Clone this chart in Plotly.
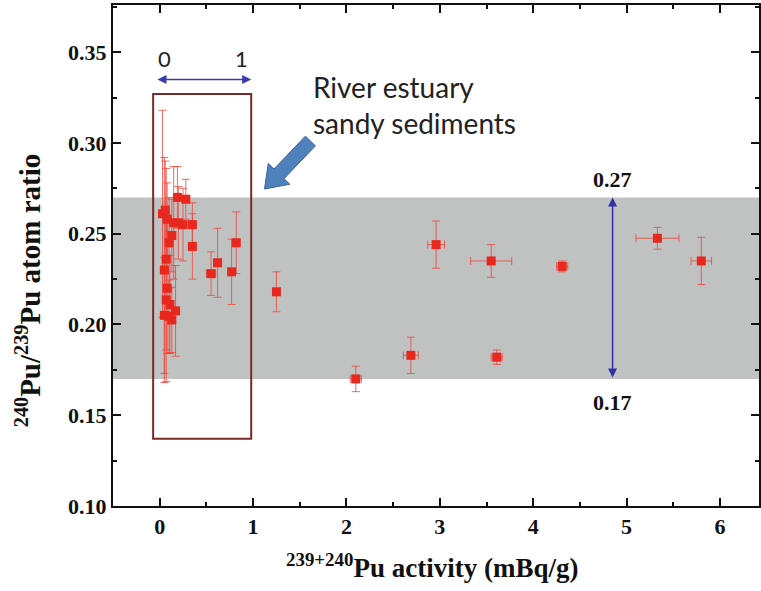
import math
import plotly.graph_objects as go

# ---------------- data ----------------
activity = [0.03, 0.06, 0.08, 0.15, 0.20, 0.19, 0.28, 0.25, 0.35, 0.13, 0.10, 0.35,
            0.07, 0.05, 0.08, 0.07, 0.11, 0.17, 0.05, 0.10, 0.13,
            0.55, 0.62, 0.77, 0.82, 1.25,
            2.10, 2.69, 2.96, 3.55, 3.61, 4.31, 5.33, 5.80]
activity_err = [0.02, 0.02, 0.02, 0.02, 0.02, 0.02, 0.02, 0.02, 0.02, 0.02, 0.02, 0.02,
                0.02, 0.02, 0.02, 0.02, 0.02, 0.02, 0.02, 0.02, 0.02,
                0.05, 0.04, 0.03, 0.03, 0.03,
                0.06, 0.08, 0.09, 0.22, 0.06, 0.06, 0.23, 0.11]
ratio = [0.261, 0.263, 0.258, 0.256, 0.256, 0.270, 0.269, 0.255, 0.255, 0.249, 0.245, 0.243,
         0.236, 0.230, 0.220, 0.2135, 0.211, 0.2075, 0.205, 0.2045, 0.2025,
         0.228, 0.234, 0.229, 0.245, 0.218,
         0.170, 0.183, 0.244, 0.235, 0.182, 0.232, 0.2475, 0.235]
ratio_err = [0.057, 0.027, 0.020, 0.031, 0.020, 0.017, 0.011, 0.020, 0.012, 0.020, 0.025, 0.018,
             0.050, 0.062, 0.036, 0.045, 0.027, 0.025, 0.032, 0.020, 0.018,
             0.012, 0.019, 0.018, 0.017, 0.011,
             0.007, 0.010, 0.013, 0.009, 0.004, 0.003, 0.006, 0.013]

band_low, band_high = 0.17, 0.27
x_ticks = [0, 1, 2, 3, 4, 5, 6]
y_ticks = [0.10, 0.15, 0.20, 0.25, 0.30, 0.35]

# ---------------- layout geometry ----------------
W, H = 761, 591
ML, MR, MT, MB = 113, 0, 5, 85
XR = [-0.5, 6.418]
YR = [0.10, 0.376]
pw, ph = W - ML - MR, H - MT - MB


def px2x(px):
    return XR[0] + (px - ML) / pw * (XR[1] - XR[0])


def py2y(py):
    return YR[1] - (py - MT) / ph * (YR[1] - YR[0])


SERIF = "Liberation Serif, Times New Roman, serif"
SANS = "Lato, Calibri, Carlito, sans-serif"

fig = go.Figure()

fig.add_trace(go.Scatter(
    x=activity, y=ratio, mode="markers",
    marker=dict(symbol="square", size=9, color="#e8271f"),
    error_y=dict(type="data", array=ratio_err, color="rgba(238,70,60,0.8)", thickness=1, width=4),
    error_x=dict(type="data", array=activity_err, color="rgba(238,70,60,0.8)", thickness=1, width=4),
    showlegend=False, cliponaxis=False,
))

shapes = []
shapes.append(dict(type="rect", xref="paper", yref="y", x0=0, x1=1, y0=band_low, y1=band_high,
                   fillcolor="#c0c1c1", line=dict(width=0), layer="below"))
shapes.append(dict(type="rect", xref="x", yref="y", x0=-0.07, x1=0.98, y0=0.137, y1=0.327,
                   line=dict(color="#7a2a2a", width=2), fillcolor="rgba(0,0,0,0)", layer="above"))

# fat blue arrow (pixel geometry -> data coords)
tail = (311, 141)
tip = (265, 189)
dx, dy = tip[0] - tail[0], tip[1] - tail[1]
L = math.hypot(dx, dy)
ux, uy = dx / L, dy / L
nx, ny = -uy, ux
sw, hw, hl = 7, 15, 21
bx, by = tip[0] - ux * hl, tip[1] - uy * hl
pts = [
    (tail[0] + nx * sw, tail[1] + ny * sw),
    (bx + nx * sw, by + ny * sw),
    (bx + nx * hw, by + ny * hw),
    tip,
    (bx - nx * hw, by - ny * hw),
    (bx - nx * sw, by - ny * sw),
    (tail[0] - nx * sw, tail[1] - ny * sw),
]
path = "M " + " L ".join(f"{px2x(p[0]):.5f},{py2y(p[1]):.5f}" for p in pts) + " Z"
shapes.append(dict(type="path", xref="x", yref="y", path=path,
                   fillcolor="#4f81bd", line=dict(color="#3b6597", width=1), layer="above"))

annotations = []
annotations.append(dict(x=0.98, y=0.335, ax=-0.04, ay=0.335, xref="x", yref="y", axref="x", ayref="y",
                        text="", showarrow=True, arrowhead=2, startarrowhead=2, arrowside="end+start",
                        arrowsize=1.2, startarrowsize=1.2, arrowwidth=1.5, arrowcolor="#3a3ab0"))
annotations.append(dict(x=0.05, y=0.3467, xref="x", yref="y", text="0", showarrow=False,
                        font=dict(family=SANS, size=22, color="#222222")))
annotations.append(dict(x=0.88, y=0.3467, xref="x", yref="y", text="1", showarrow=False,
                        font=dict(family=SANS, size=22, color="#222222")))
annotations.append(dict(x=1.62, y=0.321, xref="x", yref="y", xanchor="left", yanchor="middle",
                        text="River estuary<br>sandy sediments", showarrow=False, align="left",
                        font=dict(family=SANS, size=28, color="#222222")))
annotations.append(dict(x=4.85, y=band_high, ax=4.85, ay=band_low, xref="x", yref="y", axref="x", ayref="y",
                        text="", showarrow=True, arrowhead=2, startarrowhead=2, arrowside="end+start",
                        arrowsize=1.2, startarrowsize=1.2, arrowwidth=1.5, arrowcolor="#3030a8"))
annotations.append(dict(x=4.85, y=0.280, xref="x", yref="y", text="<b>0.27</b>", showarrow=False,
                        font=dict(family=SERIF, size=22, color="#111111")))
annotations.append(dict(x=4.85, y=0.157, xref="x", yref="y", text="<b>0.17</b>", showarrow=False,
                        font=dict(family=SERIF, size=22, color="#111111")))
# axis titles (paper coords)
annotations.append(dict(xref="paper", yref="paper", x=(433 - ML) / pw, y=1 - (566 - MT) / ph,
                        xanchor="center", yanchor="middle",
                        text="<b><sup>239+240</sup>Pu activity (mBq/g)</b>", showarrow=False,
                        font=dict(family=SERIF, size=27, color="#111111")))
annotations.append(dict(xref="paper", yref="paper", x=(28 - ML) / pw, y=1 - (290 - MT) / ph,
                        xanchor="center", yanchor="middle",
                        text="<b><sup>240</sup>Pu/<sup>239</sup>Pu atom ratio</b>", showarrow=False,
                        textangle=-90, font=dict(family=SERIF, size=29, color="#111111")))

axis_common = dict(showline=True, linecolor="#111111", linewidth=2, mirror="ticks",
                   ticks="inside", tickwidth=2, ticklen=8, tickcolor="#111111",
                   showgrid=False, zeroline=False,
                   tickfont=dict(family=SERIF, size=22, color="#111111"))

fig.update_layout(
    width=W, height=H,
    margin=dict(l=ML, r=MR, t=MT, b=MB),
    paper_bgcolor="white", plot_bgcolor="white",
    shapes=shapes, annotations=annotations,
    xaxis=dict(range=XR, tickvals=x_ticks, ticktext=[f"<b>{v}</b>" for v in x_ticks],
               minor=dict(dtick=0.5, tick0=0, ticks="inside", ticklen=4, tickwidth=2, tickcolor="#111111"),
               **axis_common),
    yaxis=dict(range=YR, tickvals=y_ticks, ticktext=[f"<b>{v:.2f}</b>" for v in y_ticks],
               minor=dict(dtick=0.025, tick0=0.1, ticks="inside", ticklen=4, tickwidth=2, tickcolor="#111111"),
               **axis_common),
)

fig.write_html("out.html", config={"displayModeBar": False},
               post_script="document.body.style.margin='0px';")
